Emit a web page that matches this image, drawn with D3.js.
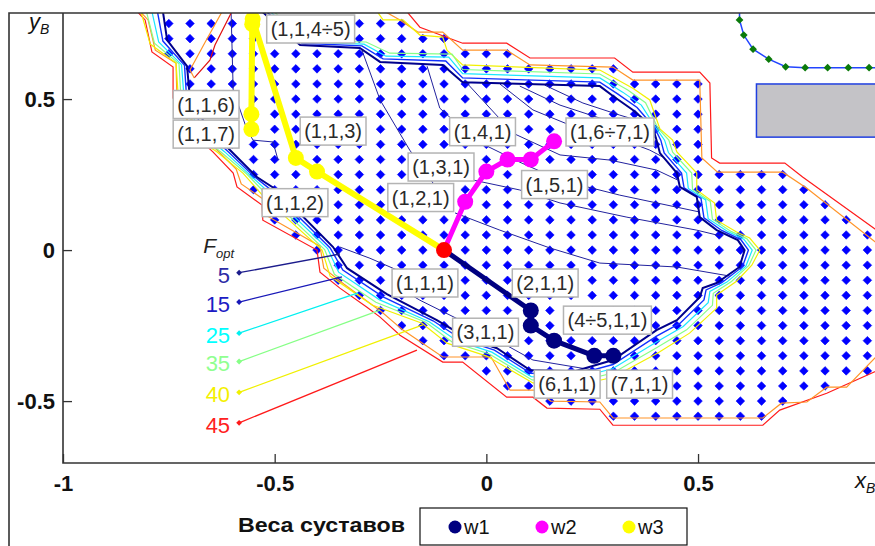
<!DOCTYPE html>
<html><head><meta charset="utf-8">
<script src="https://cdn.jsdelivr.net/npm/d3@7"></script>
<style>body{margin:0;background:#fff}svg{display:block}text{font-family:"Liberation Sans",Arial,sans-serif}</style>
</head><body><svg id="c" width="875" height="546"></svg>
<script>
// ---------------- data ----------------
const xTicks = [-1, -0.5, 0, 0.5];
const yTicks = [-0.5, 0, 0.5];
const gridStep = 0.05;
// workspace grid rows: [y, first x, last x]
const dotRows = [
  [0.75,-0.75,-0.2],[0.7,-0.75,-0.1],[0.65,-0.75,0.05],[0.6,-0.7,0.3],[0.55,-0.7,0.5],
  [0.5,-0.7,0.5],[0.45,-0.7,0.5],[0.4,-0.7,0.5],[0.35,-0.6,0.5],[0.3,-0.55,0.5],
  [0.25,-0.55,0.7],[0.2,-0.55,0.75],[0.15,-0.5,0.8],[0.1,-0.5,0.85],[0.05,-0.45,0.9],
  [0,-0.4,0.9],[-0.05,-0.35,0.9],[-0.1,-0.35,0.9],[-0.15,-0.3,0.9],[-0.2,-0.25,0.9],
  [-0.25,-0.2,0.9],[-0.3,-0.15,0.9],[-0.35,-0.1,0.9],[-0.4,0,0.9],[-0.45,0.05,0.8],
  [-0.5,0.15,0.7],[-0.55,0.3,0.65]
];
// F_opt contour lines
const contourNavy = [[-0.764,0.79],[-0.754,0.695],[-0.707,0.609],[-0.702,0.530],[-0.664,0.414],[-0.601,0.325],[-0.542,0.242],[-0.495,0.199],[-0.362,0.010],[-0.329,-0.060],[-0.235,-0.146],[-0.117,-0.232],[-0.046,-0.291],[0.025,-0.325],[0.103,-0.397],[0.209,-0.401],[0.299,-0.364],[0.402,-0.265],[0.450,-0.232],[0.504,-0.156],[0.511,-0.126],[0.544,-0.109],[0.598,-0.056],[0.610,0],[0.594,0.033],[0.544,0.066],[0.504,0.109],[0.497,0.176],[0.457,0.209],[0.450,0.255],[0.410,0.321],[0.402,0.364],[0.393,0.407],[0.346,0.464],[0.299,0.510],[0.268,0.543],[-0.056,0.556],[-0.103,0.613],[-0.251,0.623],[-0.299,0.669],[-0.440,0.679],[-0.530,0.79]];
const contourBlue = [[-0.777,0.79],[-0.764,0.692],[-0.713,0.612],[-0.709,0.526],[-0.672,0.406],[-0.609,0.325],[-0.550,0.245],[-0.502,0.192],[-0.369,0.007],[-0.339,-0.066],[-0.244,-0.155],[-0.126,-0.234],[-0.058,-0.296],[0.019,-0.331],[0.105,-0.408],[0.209,-0.413],[0.299,-0.379],[0.403,-0.284],[0.457,-0.243],[0.514,-0.165],[0.519,-0.132],[0.556,-0.108],[0.605,-0.055],[0.619,0],[0.601,0.035],[0.556,0.065],[0.514,0.107],[0.507,0.171],[0.467,0.206],[0.461,0.255],[0.420,0.322],[0.412,0.364],[0.397,0.406],[0.356,0.472],[0.310,0.517],[0.268,0.556],[-0.056,0.570],[-0.096,0.626],[-0.244,0.633],[-0.294,0.676],[-0.436,0.685],[-0.520,0.79]];
const contourCyan = [[-0.790,0.79],[-0.774,0.689],[-0.720,0.614],[-0.715,0.522],[-0.680,0.397],[-0.618,0.325],[-0.558,0.248],[-0.509,0.185],[-0.375,0.005],[-0.349,-0.073],[-0.253,-0.164],[-0.135,-0.237],[-0.070,-0.300],[0.013,-0.338],[0.106,-0.419],[0.209,-0.426],[0.299,-0.392],[0.404,-0.303],[0.465,-0.253],[0.524,-0.174],[0.528,-0.137],[0.568,-0.106],[0.613,-0.053],[0.628,0],[0.608,0.036],[0.568,0.063],[0.524,0.104],[0.518,0.166],[0.477,0.204],[0.473,0.255],[0.430,0.323],[0.421,0.364],[0.401,0.404],[0.366,0.480],[0.322,0.523],[0.268,0.570],[-0.056,0.584],[-0.089,0.639],[-0.237,0.642],[-0.289,0.682],[-0.431,0.689],[-0.511,0.79]];
const contourGreen = [[-0.803,0.79],[-0.784,0.685],[-0.726,0.617],[-0.722,0.517],[-0.687,0.389],[-0.627,0.325],[-0.566,0.252],[-0.516,0.179],[-0.382,0.002],[-0.359,-0.080],[-0.261,-0.173],[-0.143,-0.239],[-0.081,-0.304],[0.007,-0.344],[0.108,-0.430],[0.209,-0.438],[0.299,-0.407],[0.404,-0.322],[0.473,-0.264],[0.534,-0.183],[0.536,-0.143],[0.579,-0.104],[0.620,-0.051],[0.637,0],[0.615,0.038],[0.579,0.061],[0.534,0.102],[0.529,0.161],[0.487,0.201],[0.485,0.255],[0.440,0.324],[0.431,0.364],[0.406,0.402],[0.376,0.488],[0.334,0.530],[0.268,0.583],[-0.056,0.598],[-0.081,0.649],[-0.228,0.652],[-0.284,0.689],[-0.426,0.692],[-0.502,0.79]];
const contourYellow = [[-0.816,0.79],[-0.794,0.682],[-0.733,0.619],[-0.728,0.513],[-0.695,0.381],[-0.636,0.325],[-0.575,0.255],[-0.523,0.172],[-0.388,0],[-0.369,-0.086],[-0.270,-0.182],[-0.152,-0.242],[-0.093,-0.308],[0.001,-0.351],[0.110,-0.440],[0.209,-0.450],[0.299,-0.421],[0.405,-0.341],[0.480,-0.275],[0.544,-0.192],[0.544,-0.149],[0.591,-0.103],[0.627,-0.050],[0.646,0],[0.622,0.040],[0.591,0.060],[0.544,0.099],[0.539,0.156],[0.497,0.199],[0.497,0.255],[0.450,0.325],[0.440,0.364],[0.410,0.401],[0.386,0.497],[0.346,0.536],[0.268,0.596],[-0.056,0.613],[-0.093,0.662],[-0.103,0.705],[-0.157,0.712],[-0.197,0.762],[-0.244,0.762],[-0.258,0.79]];
const contourOrangeA = [[-0.818,0.79],[-0.799,0.762],[-0.782,0.662],[-0.733,0.619],[-0.731,0.510],[-0.669,0.374],[-0.638,0.334],[-0.591,0.268],[-0.579,0.219],[-0.520,0.162],[-0.518,0.113],[-0.393,0.013],[-0.384,-0.060],[-0.336,-0.113],[-0.275,-0.176],[-0.247,-0.205],[-0.197,-0.265],[-0.103,-0.354],[0.011,-0.354],[0.056,-0.464],[0.119,-0.464],[0.152,-0.500],[0.268,-0.503],[0.299,-0.556],[0.653,-0.556],[0.697,-0.507],[0.757,-0.503],[0.804,-0.454],[0.851,-0.454],[0.952,-0.308]];
const contourRedA = [[-0.825,0.79],[-0.806,0.762],[-0.790,0.656],[-0.740,0.606],[-0.740,0.503],[-0.676,0.364],[-0.646,0.325],[-0.598,0.255],[-0.589,0.209],[-0.530,0.149],[-0.528,0.099],[-0.400,0],[-0.393,-0.073],[-0.346,-0.126],[-0.282,-0.189],[-0.251,-0.222],[-0.204,-0.282],[-0.103,-0.371],[-0.056,-0.371],[0.048,-0.487],[0.110,-0.487],[0.143,-0.523],[0.268,-0.527],[0.299,-0.580],[0.653,-0.580],[0.693,-0.530],[0.804,-0.474],[0.952,-0.381]];
const contourOrangeB = [[-0.240,0.79],[-0.204,0.762],[-0.162,0.722],[-0.103,0.722],[-0.056,0.662],[0.048,0.662],[0.103,0.613],[0.299,0.606],[0.346,0.563],[0.504,0.563],[0.509,0.305],[0.546,0.258],[0.700,0.258],[0.757,0.205],[0.952,-0.010]];
const contourRedB = [[-0.188,0.79],[-0.157,0.738],[-0.056,0.685],[0.048,0.685],[0.103,0.636],[0.303,0.636],[0.346,0.589],[0.504,0.589],[0.528,0.553],[0.532,0.305],[0.551,0.288],[0.705,0.288],[0.747,0.242],[0.952,0.036]];
const contourOrangeN = [[-0.624,0.79],[-0.664,0.689],[-0.700,0.596],[-0.690,0.570]];
const contourRedN = [[-0.601,0.79],[-0.641,0.679],[-0.653,0.629],[-0.690,0.570]];
// thin interior level lines
const innerLines = [
  [[-0.294,0.662],[-0.251,0.497],[-0.181,0.331],[-0.126,0.222]],
  [[-0.140,0.609],[-0.110,0.470],[-0.027,0.364],[0.079,0.291],[0.174,0.232],[0.315,0.182],[0.504,0.126]],
  [[-0.046,0.553],[0.063,0.387],[0.174,0.315],[0.292,0.298],[0.402,0.265],[0.452,0.232]],
  [[0.032,0.550],[0.110,0.464],[0.197,0.414],[0.292,0.381],[0.386,0.331],[0.417,0.308]],
  [[0.079,0.543],[0.174,0.480],[0.268,0.437],[0.362,0.397],[0.402,0.371]],
  [[0.138,0.546],[0.228,0.487],[0.315,0.447],[0.386,0.417]],
  [[-0.074,0.123],[0.032,0.066],[0.150,0.007],[0.268,-0.043],[0.450,-0.056],[0.575,-0.086]],
  [[-0.032,0.232],[0.079,0.199],[0.174,0.156],[0.332,0.109],[0.497,0.066],[0.556,0.046]],
  [[-0.216,-0.116],[-0.157,-0.166],[-0.039,-0.248],[0.110,-0.364],[0.251,-0.397]],
  [[-0.603,0.79],[-0.598,0.530],[-0.565,0.397],[-0.551,0.364],[-0.504,0.358],[-0.492,0.298]],
  [[-0.346,0.010],[-0.275,-0.027],[-0.211,-0.066]]
];
// F_opt level legend
const fLevels = [5, 15, 25, 35, 40, 45];
const fStartX = -0.584;
const fStartY = [-0.075, -0.172, -0.275, -0.369, -0.471, -0.572];
const fEndX = [-0.346, -0.341, -0.303, -0.251, -0.150, -0.164];
const fEndY = [-0.013, -0.089, -0.142, -0.199, -0.248, -0.331];
// joint-weight trajectories
const seriesNames = ["w1", "w2", "w3"];
const w1X = [-0.1, 0.105, 0.105, 0.16, 0.255, 0.30];
const w1Y = [0, -0.20, -0.25, -0.30, -0.35, -0.35];
const w2X = [-0.1, -0.05, 0, 0.05, 0.105, 0.16];
const w2Y = [0, 0.16, 0.26, 0.30, 0.30, 0.36];
const w3X = [-0.1, -0.40, -0.45, -0.552, -0.553, -0.555, -0.555];
const w3Y = [0, 0.26, 0.305, 0.765, 0.748, 0.45, 0.40];
const startPoint = [-0.1, 0];
// point labels
const pointLabels = ["(1,1,4÷5)","(1,1,6)","(1,1,7)","(1,1,3)","(1,1,2)","(1,4,1)","(1,3,1)","(1,2,1)","(1,5,1)","(1,6÷7,1)","(1,1,1)","(2,1,1)","(3,1,1)","(4÷5,1,1)","(6,1,1)","(7,1,1)"];
const labelX = [-0.415,-0.662,-0.662,-0.362,-0.452,-0.009,-0.107,-0.155,0.161,0.292,-0.145,0.139,-0.002,0.286,0.191,0.362];
const labelY = [0.732,0.482,0.384,0.394,0.157,0.392,0.275,0.174,0.217,0.391,-0.109,-0.109,-0.272,-0.232,-0.444,-0.444];
// obstacle and other trajectory
const obstacleX = [0.638, 1.0];
const obstacleY = [0.374, 0.550];
const greenX = [0.598,0.598,0.608,0.630,0.667,0.707,0.753,0.806,0.855,0.904,0.955];
const greenY = [0.79,0.762,0.712,0.665,0.632,0.607,0.604,0.604,0.604,0.604,0.604];

// ---------------- drawing ----------------
const svg = d3.select('#c');
const x = d3.scaleLinear().domain([-1, 0.918]).range([63, 875]);
const y = d3.scaleLinear().domain([-0.705, 0.785]).range([463, 13]);
const line = d3.line().x(d => x(d[0])).y(d => y(d[1]));
const diamond = {draw(ctx, size){const r = Math.sqrt(size)/2; ctx.moveTo(0,-r); ctx.lineTo(r,0); ctx.lineTo(0,r); ctx.lineTo(-r,0); ctx.closePath();}};

svg.append('defs').append('clipPath').attr('id','clip').append('rect')
  .attr('x', x(-1)).attr('y', y(0.785)).attr('width', 875 - x(-1)).attr('height', y(-0.705) - y(0.785));
const plot = svg.append('g').attr('clip-path','url(#clip)');

// grid dots
const dots = [];
dotRows.forEach(([yy, x0, x1]) => {
  for (let k = Math.round(x0/gridStep); k <= Math.round(x1/gridStep); k++) dots.push([k*gridStep, yy]);
});
plot.append('g').selectAll('path').data(dots).join('path')
  .attr('transform', d => `translate(${x(d[0])},${y(d[1])})`)
  .attr('d', d3.symbol().type(diamond).size(74)).attr('fill', '#0000ff')
  .attr('stroke','#0000ff').attr('stroke-width',0.6).attr('stroke-linejoin','round');

// thin interior lines
plot.append('g').selectAll('path').data(innerLines).join('path')
  .attr('d', line).attr('fill','none').attr('stroke','#22229e').attr('stroke-width',1);

// contours
const contours = [
  [contourRedA,'#ff1a1a',1.2],[contourRedB,'#ff1a1a',1.2],[contourRedN,'#e01010',1.2],
  [contourOrangeA,'#ff9428',1.2],[contourOrangeB,'#ff9428',1.2],[contourOrangeN,'#ff9428',1.2],
  [contourYellow,'#f2f000',1.2],[contourGreen,'#86ff86',1.2],[contourCyan,'#19e6ff',1.2],
  [contourBlue,'#1030ff',1.4],[contourNavy,'#00008c',2]
];
plot.append('g').selectAll('path').data(contours).join('path')
  .attr('d', d => line(d[0])).attr('fill','none').attr('stroke', d => d[1]).attr('stroke-width', d => d[2]);

// obstacle & second trajectory
plot.append('rect').attr('x', x(obstacleX[0])).attr('y', y(obstacleY[1]))
  .attr('width', x(obstacleX[1]) - x(obstacleX[0])).attr('height', y(obstacleY[0]) - y(obstacleY[1]))
  .attr('fill','#c4c3c7').attr('stroke','#1f3fe0').attr('stroke-width',1.5);
const greenPts = greenX.map((v,i) => [v, greenY[i]]);
plot.append('path').attr('d', line(greenPts)).attr('fill','none').attr('stroke','#2244ff').attr('stroke-width',1.5);
plot.append('g').selectAll('path').data(greenPts.slice(1)).join('path')
  .attr('transform', d => `translate(${x(d[0])},${y(d[1])})`)
  .attr('d', d3.symbol().type(diamond).size(60)).attr('fill','#0a7a0a');

// F_opt legend lines
const fColors = ['#1c1c8c','#1818b8','#00f0f0','#86ff86','#f0f000','#ff1a1a'];
const fText = ['#2b2ba6','#1c1cc4','#00ffff','#90ff90','#f4f000','#ff2020'];
const fg = plot.append('g');
fLevels.forEach((lv, i) => {
  fg.append('line').attr('x1', x(fStartX)).attr('y1', y(fStartY[i])).attr('x2', x(fEndX[i])).attr('y2', y(fEndY[i]))
    .attr('stroke', fColors[i]).attr('stroke-width', 1.3);
  fg.append('path').attr('transform', `translate(${x(fStartX)},${y(fStartY[i])})`)
    .attr('d', d3.symbol().type(diamond).size(34)).attr('fill', fColors[i]);
  fg.append('text').attr('x', x(fStartX) - 9).attr('y', y(fStartY[i])).attr('dy','0.45em')
    .attr('text-anchor','end').attr('font-size',22).attr('fill', fText[i]).text(lv);
});
const ft = fg.append('text').attr('x', x(-0.669)).attr('y', y(-0.01)).attr('font-family','"Liberation Serif",serif').attr('font-style','italic').attr('fill','#222');
ft.append('tspan').attr('font-size',21).text('F');
ft.append('tspan').attr('font-size',13).attr('dy',5).text('opt');

// trajectories
const series = [
  {name:'w3', xs:w3X, ys:w3Y, color:'#ffff00', w:6},
  {name:'w2', xs:w2X, ys:w2Y, color:'#ff00ff', w:5},
  {name:'w1', xs:w1X, ys:w1Y, color:'#000080', w:5}
];
series.forEach(s => {
  const pts = s.xs.map((v,i) => [v, s.ys[i]]);
  plot.append('path').attr('d', line(pts)).attr('fill','none').attr('stroke', s.color)
    .attr('stroke-width', s.w).attr('stroke-linejoin','round');
  plot.append('g').selectAll('circle').data(pts.slice(1)).join('circle')
    .attr('cx', d => x(d[0])).attr('cy', d => y(d[1])).attr('r', 8).attr('fill', s.color);
});
plot.append('circle').attr('cx', x(startPoint[0])).attr('cy', y(startPoint[1])).attr('r', 8).attr('fill','#ff0000');

// point labels
const lg = plot.append('g');
pointLabels.forEach((t, i) => {
  const g = lg.append('g');
  const rect = g.append('rect');
  const tx = g.append('text').attr('x', x(labelX[i])).attr('y', y(labelY[i])).attr('dy','0.36em')
    .attr('text-anchor','middle').attr('font-size',20).attr('fill','#2a2a2a').text(t);
  const w = tx.node().getComputedTextLength() + 8;
  rect.attr('x', x(labelX[i]) - w/2).attr('y', y(labelY[i]) - 14).attr('width', w).attr('height', 28)
    .attr('fill','#fff').attr('stroke','#b4b4b4').attr('stroke-width',1.5);
});

// axes
const axX = svg.append('g').attr('transform', `translate(0,${y(-0.705)})`)
  .call(d3.axisBottom(x).tickValues(xTicks).tickSize(-9).tickPadding(12).tickFormat(d => String(d)));
const axY = svg.append('g').attr('transform', `translate(${x(-1)},0)`)
  .call(d3.axisLeft(y).tickValues(yTicks).tickSize(-9).tickPadding(8).tickFormat(d => String(d)));
[axX, axY].forEach(a => {
  a.select('.domain').remove();
  a.selectAll('line').attr('stroke','#333').attr('stroke-width',1.3);
  a.selectAll('text').attr('font-size',22).attr('font-weight','bold').attr('fill','#111')
    .attr('font-family','"Liberation Sans",Arial,sans-serif');
});
// frames
svg.append('path').attr('d', `M9,546V${y(0.785)}H875`).attr('fill','none').attr('stroke','#333').attr('stroke-width',1.6);
svg.append('path').attr('d', `M${x(-1)},${y(0.785)}V${y(-0.705)}H875`).attr('fill','none').attr('stroke','#333').attr('stroke-width',1.6);

// axis names
const yl = svg.append('text').attr('x', 29).attr('y', 29).attr('font-family','"Liberation Serif",serif').attr('font-style','italic').attr('fill','#111');
yl.append('tspan').attr('font-size',22).text('y');
yl.append('tspan').attr('font-size',14).attr('dy',5).text('B');
const xl = svg.append('text').attr('x', 855).attr('y', 488).attr('font-family','"Liberation Serif",serif').attr('font-style','italic').attr('fill','#111');
xl.append('tspan').attr('font-size',22).text('x');
xl.append('tspan').attr('font-size',14).attr('dy',5).text('B');

// bottom legend
svg.append('text').attr('x', 405).attr('y', 532).attr('text-anchor','end').attr('font-size',20)
  .attr('font-weight','bold').attr('fill','#111').attr('textLength',167).attr('lengthAdjust','spacingAndGlyphs').text('Веса суставов');
svg.append('rect').attr('x',420).attr('y',508).attr('width',267).attr('height',37).attr('fill','#fff').attr('stroke','#111').attr('stroke-width',1.2);
const legColors = {w1:'#000080', w2:'#ff00ff', w3:'#ffff00'};
seriesNames.forEach((n, i) => {
  const cx = 455 + i*87;
  svg.append('circle').attr('cx', cx).attr('cy', 527).attr('r', 6.5).attr('fill', legColors[n]);
  svg.append('text').attr('x', cx + 9).attr('y', 534).attr('font-size',20).attr('fill','#111').text(n);
});
</script></body></html>
